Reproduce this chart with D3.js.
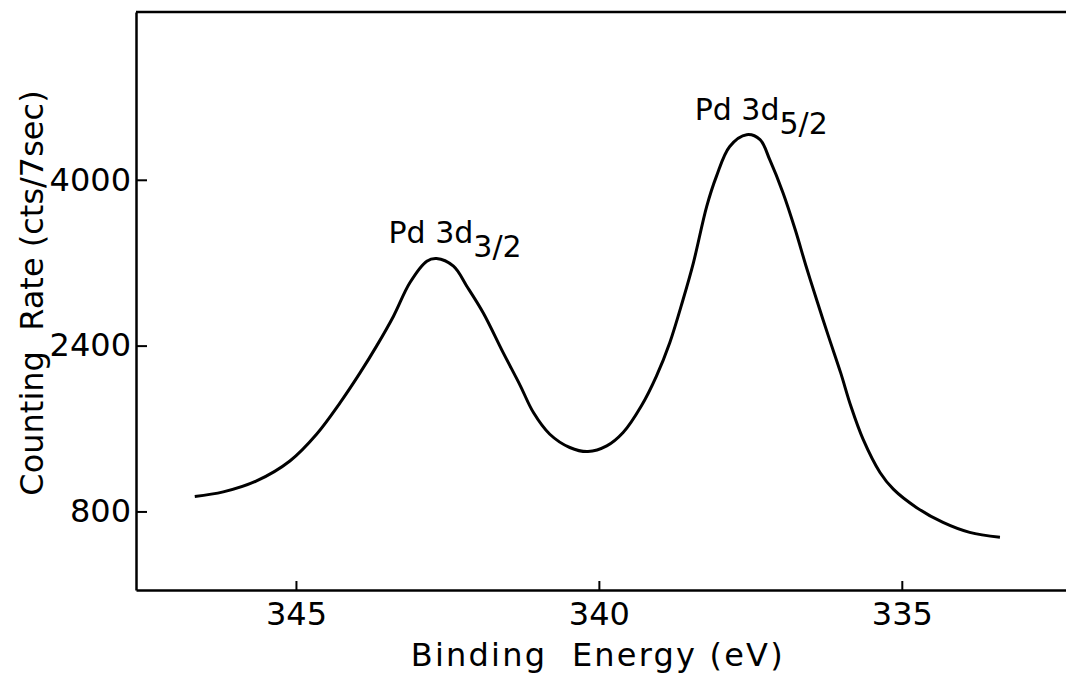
<!DOCTYPE html>
<html>
<head>
<meta charset="utf-8">
<script src="https://cdn.jsdelivr.net/npm/d3@7"></script>
<style>
  body { margin: 0; background: #fff; }
  svg { display: block; }
  text { font-family: "DejaVu Sans", sans-serif; fill: #000; }
</style>
</head>
<body>
<svg id="chart" width="1066" height="673"></svg>
<script>
// Binding energy (eV)
var energy = [346.67, 346.20, 345.65, 345.10, 344.66, 344.27, 343.94, 343.67, 343.39, 343.12,
              342.84, 342.68, 342.40, 342.18, 341.91, 341.58, 341.30, 341.08, 340.81, 340.48,
              340.18, 339.87, 339.60, 339.30, 339.05, 338.83, 338.61, 338.44, 338.22, 338.06,
              337.84, 337.56, 337.34, 337.18, 336.96, 336.76, 336.58, 336.39, 336.21, 336.01,
              335.84, 335.64, 335.36, 335.14, 334.76, 334.32, 333.88, 333.38];
// Counting rate (cts/7sec)
var counts = [945, 989, 1095, 1287, 1545, 1850, 2139, 2395, 2684, 3006,
              3214, 3240, 3166, 2973, 2717, 2332, 2017, 1754, 1545, 1417,
              1378, 1432, 1561, 1817, 2106, 2428, 2845, 3199, 3744, 4033,
              4322, 4435, 4387, 4194, 3873, 3520, 3166, 2813, 2489, 2139,
              1814, 1497, 1176, 1015, 839, 694, 598, 550];
var xTicks = [345, 340, 335];
var yTicks = [800, 2400, 4000];
var peakNames = ["Pd 3d", "Pd 3d"];
var peakSubs = ["3/2", "5/2"];
var peakE = [342.68, 337.56];
var peakC = [3240, 4435];

var svg = d3.select('#chart');
var margin = { top: 12, right: 0, bottom: 83, left: 136 };
var width = 1066 - margin.left - margin.right;
var height = 673 - margin.top - margin.bottom;

var x = d3.scaleLinear()
          .domain([347.64, 332.29])
          .range([0, width]);
var y = d3.scaleLinear()
          .domain([42, 5619])
          .range([height, 0]);

var g = svg.append('g')
           .attr('transform', 'translate(' + margin.left + ',' + margin.top + ')');

// frame: left, bottom and top lines only
g.append('line').attr('x1', 0).attr('x2', width).attr('y1', 0).attr('y2', 0)
  .attr('stroke', '#000').attr('stroke-width', 2.5);

// x axis
g.append('g')
  .attr('transform', 'translate(0,' + height + ')')
  .call(d3.axisBottom(x).tickValues(xTicks).tickFormat(d3.format('d'))
          .tickSizeInner(-9).tickSizeOuter(0))
  .call(g => g.select('.domain').attr('stroke-width', 2.5))
  .call(g => g.selectAll('.tick line').attr('stroke-width', 2))
  .call(g => g.selectAll('.tick text')
      .attr('font-size', '32px')
      .attr('font-family', '"DejaVu Sans", sans-serif')
      .attr('dy', '0.85em')
      .attr('y', 8));

// y axis
g.append('g')
  .call(d3.axisLeft(y).tickValues(yTicks).tickFormat(d3.format('d'))
          .tickSizeInner(-11).tickSizeOuter(0))
  .call(g => g.select('.domain').attr('stroke-width', 2.5))
  .call(g => g.selectAll('.tick line').attr('stroke-width', 2))
  .call(g => g.selectAll('.tick text')
      .attr('font-size', '32px')
      .attr('font-family', '"DejaVu Sans", sans-serif')
      .attr('x', -5));

// spectrum
var pts = energy.map((e, i) => [e, counts[i]]);
g.append('path')
  .datum(pts)
  .attr('fill', 'none')
  .attr('stroke', '#000')
  .attr('stroke-width', 3)
  .attr('stroke-linejoin', 'round')
  .attr('d', d3.line()
              .x(d => x(d[0]))
              .y(d => y(d[1]))
              .curve(d3.curveCatmullRom.alpha(0.5)));

// peak labels
var labelDx = [-48, -52];
var labelDy = [-16, -15];
peakE.forEach(function(e, i) {
  var t = g.append('text')
           .attr('x', x(e) + labelDx[i])
           .attr('y', y(peakC[i]) + labelDy[i])
           .attr('font-size', '30px');
  t.append('tspan').text(peakNames[i]);
  t.append('tspan').attr('dy', 14).text(peakSubs[i]);
});

// axis titles
svg.append('text')
  .attr('x', margin.left + x(340) - 1)
  .attr('y', 666)
  .attr('text-anchor', 'middle')
  .attr('font-size', '32px')
  .attr('letter-spacing', '2.2px')
  .style('white-space', 'pre')
  .text('Binding  Energy (eV)');

svg.append('text')
  .attr('transform', 'translate(43,293) rotate(-90)')
  .attr('text-anchor', 'middle')
  .attr('font-size', '32px')
  .style('white-space', 'pre')
  .text('Counting  Rate (cts/7sec)');
</script>
</body>
</html>
